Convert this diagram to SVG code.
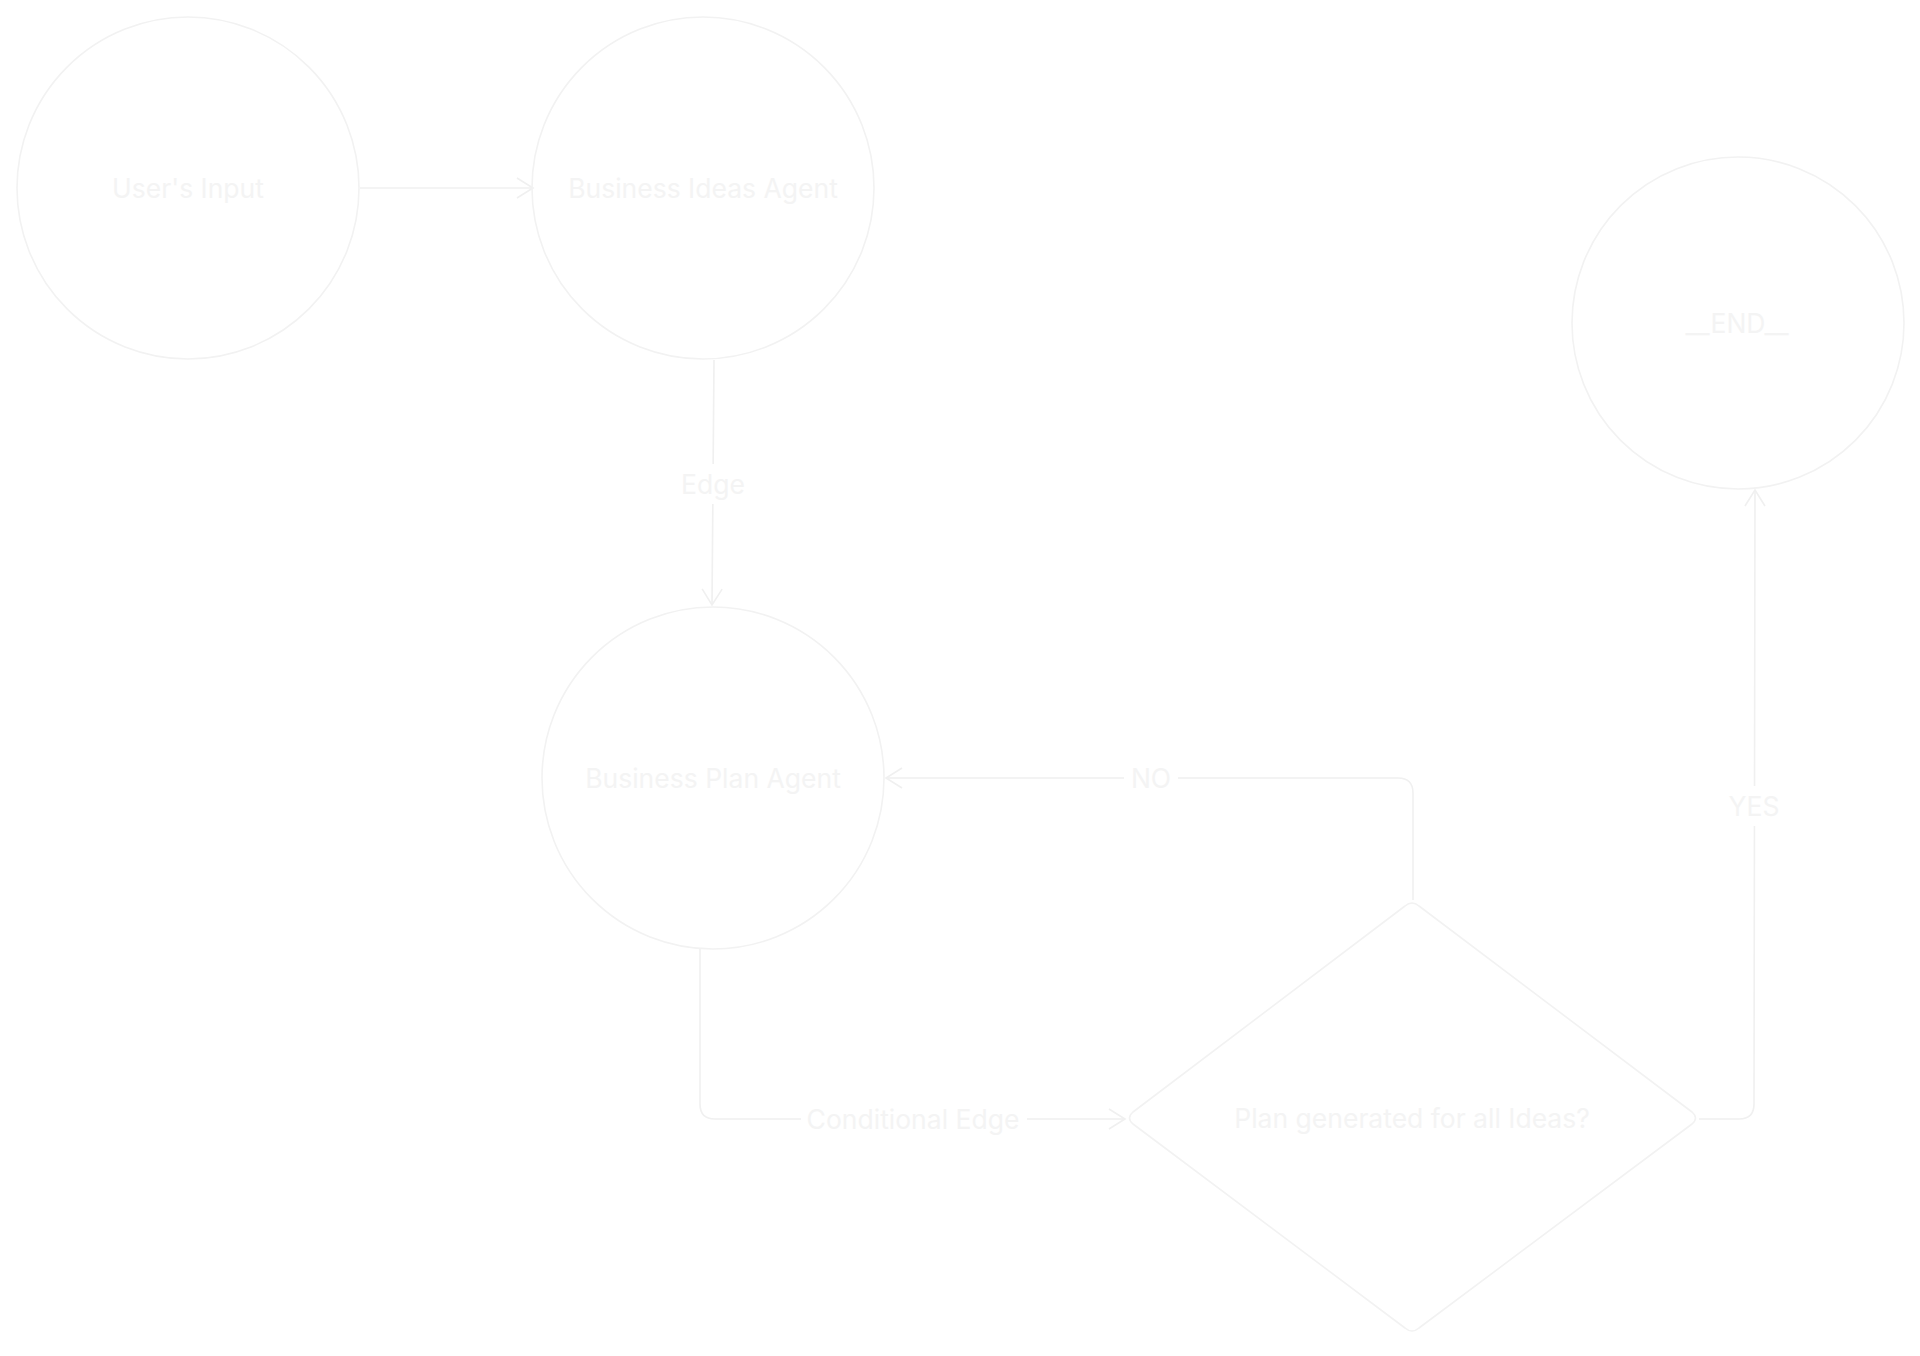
<svg xmlns="http://www.w3.org/2000/svg" width="1920" height="1356" viewBox="0 0 1920 1356">
<defs>
<style>
.node{fill:none;stroke:#f2f2f2;stroke-width:1.6}
.lbl{font-family:Inter,"Liberation Sans",sans-serif;font-size:26.5px;fill:#f4f4f4;text-anchor:middle;dominant-baseline:central}
.edge{fill:none;stroke:#f0f0f0;stroke-width:1.6}
.bg{fill:#ffffff}
</style>
<marker id="arr" viewBox="0 0 20 24" refX="18" refY="12" markerWidth="20" markerHeight="24" markerUnits="userSpaceOnUse" orient="auto">
<path d="M2,2 L18,12 L2,22" fill="none" stroke="#f0f0f0" stroke-width="1.6"/>
</marker>
</defs>
<rect width="1920" height="1356" fill="#ffffff"/>
<g id="connectors">
<path class="edge" d="M360,188 L533,188" marker-end="url(#arr)"/>
<path class="edge" d="M714,360 L712,605" marker-end="url(#arr)"/>
<path class="edge" d="M700,949 L700,1104 Q700,1119 715,1119 L1125,1119" marker-end="url(#arr)"/>
<path class="edge" d="M1413,900 L1413,793 Q1413,778 1398,778 L886,778" marker-end="url(#arr)"/>
<path class="edge" d="M1699,1119 L1739,1119 Q1754,1119 1754,1104 L1755,490" marker-end="url(#arr)"/>
<rect class="bg" x="678" y="464" width="70" height="40"/>
<text class="lbl" x="713" y="484">Edge</text>
<rect class="bg" x="801" y="1099" width="226" height="40"/>
<text class="lbl" x="913" y="1119">Conditional Edge</text>
<rect class="bg" x="1124" y="758" width="54" height="40"/>
<text class="lbl" x="1151" y="778">NO</text>
<rect class="bg" x="1722" y="786" width="66" height="40"/>
<text class="lbl" x="1754" y="806">YES</text>
</g>
<g id="users-input">
<circle class="node" cx="188" cy="188" r="171"/>
<text class="lbl" x="188" y="188">User's Input</text>
</g>
<g id="business-ideas-agent">
<circle class="node" cx="703" cy="188" r="171"/>
<text class="lbl" x="703" y="188">Business Ideas Agent</text>
</g>
<g id="business-plan-agent">
<circle class="node" cx="713" cy="778" r="171"/>
<text class="lbl" x="713" y="778">Business Plan Agent</text>
</g>
<g id="end">
<circle class="node" cx="1738" cy="323" r="166"/>
<text class="lbl" x="1737" y="323">__END__</text>
</g>
<g id="plan-decision">
<path class="node" stroke-linejoin="round" d="M1405,906 Q1412,900 1419,906 L1692,1112 Q1699,1118 1692,1124 L1419,1328 Q1412,1334 1405,1328 L1133,1124 Q1126,1118 1133,1112 Z"/>
<text class="lbl" x="1412" y="1118">Plan generated for all Ideas?</text>
</g>
</svg>
